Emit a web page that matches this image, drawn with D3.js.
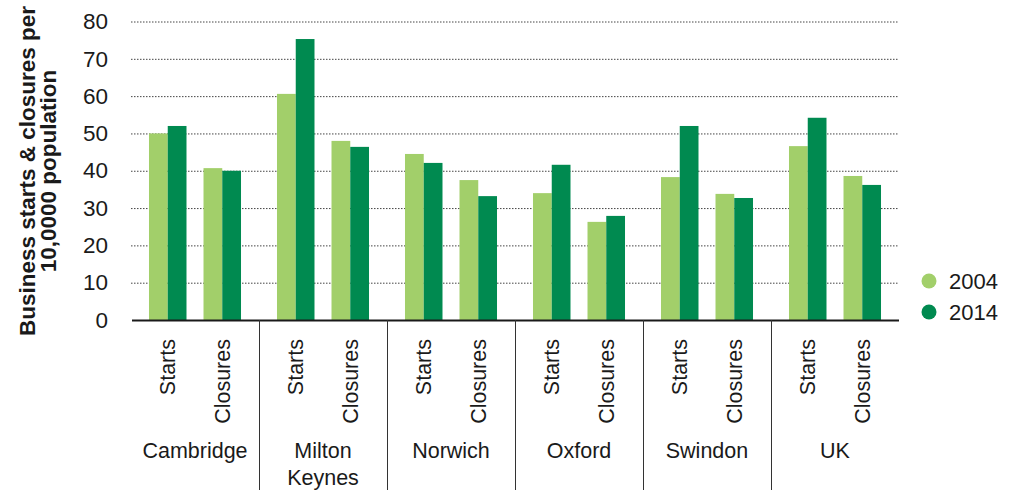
<!DOCTYPE html>
<html>
<head>
<meta charset="utf-8">
<script src="https://cdn.jsdelivr.net/npm/d3@7"></script>
<style>
  html, body { margin: 0; padding: 0; background: #fff; }
  svg { display: block; }
  text { font-family: "Liberation Sans", Arial, sans-serif; fill: #1a1a1a; }
</style>
</head>
<body>
<svg id="chart" width="1015" height="490"></svg>
<script>
// ---- Data ----
const places = ["Cambridge", "Milton Keynes", "Norwich", "Oxford", "Swindon", "UK"];
const measures = ["Starts", "Closures"];
const years = ["2004", "2014"];
const values2004 = [50.0, 40.7, 60.6, 48.0, 44.5, 37.5, 34.0, 26.3, 38.3, 33.8, 46.6, 38.6];
const values2014 = [52.0, 40.0, 75.3, 46.4, 42.1, 33.2, 41.6, 27.9, 52.0, 32.7, 54.2, 36.2];
const yTicks = [0, 10, 20, 30, 40, 50, 60, 70, 80];
const yTitle = ["Business starts & closures per", "10,0000 population"];
const colors = { "2004": "#a2cf6a", "2014": "#008a50" };

// rows built from the arrays
const rows = [];
places.forEach((p, i) => measures.forEach((m, j) => {
  const k = i * 2 + j;
  rows.push({ place: p, measure: m, "2004": values2004[k], "2014": values2014[k] });
}));

const svg = d3.select("#chart");
const mLeft = 131, mRight = 899, mTop = 21.5, mBottom = 320;

const x0 = d3.scaleBand().domain(places).range([mLeft, mRight]).padding(0);
const x1 = d3.scaleBand().domain(measures).range([0, x0.bandwidth()])
  .paddingInner(0.312).paddingOuter(0.33);
const x2 = d3.scaleBand().domain(years).range([0, x1.bandwidth()]).padding(0);
const y = d3.scaleLinear().domain([0, 80]).range([mBottom, mTop]);

// gridlines
const grid = svg.append("g").attr("transform", `translate(${mLeft},0)`)
  .call(d3.axisLeft(y).tickValues(yTicks.filter(d => d > 0)).tickSize(-(mRight - mLeft)).tickFormat(""));
grid.select(".domain").remove();
grid.selectAll(".tick line").attr("stroke", "#444").attr("stroke-width", 1)
  .attr("stroke-dasharray", "1.5,1.5");

// y tick labels
const yax = svg.append("g").attr("transform", `translate(108,0)`)
  .call(d3.axisLeft(y).tickValues(yTicks).tickSize(0).tickPadding(0));
yax.select(".domain").remove();
yax.selectAll("text").attr("font-size", 22.5).attr("fill", "#1a1a1a")
  .style("font-family", '"Liberation Sans", Arial, sans-serif');

// bars
const groups = svg.append("g").selectAll("g").data(rows).join("g")
  .attr("transform", d => `translate(${x0(d.place) + x1(d.measure)},0)`);
groups.selectAll("rect").data(d => years.map(yr => ({ yr, v: d[yr] }))).join("rect")
  .attr("x", d => x2(d.yr))
  .attr("width", x2.bandwidth())
  .attr("y", d => y(d.v))
  .attr("height", d => y(0) - y(d.v))
  .attr("fill", d => colors[d.yr]);

// baseline
svg.append("line").attr("x1", mLeft + 1).attr("x2", mRight).attr("y1", mBottom + 0.5).attr("y2", mBottom + 0.5)
  .attr("stroke", "#1a1a1a").attr("stroke-width", 2);

// group separators
svg.append("g").selectAll("line").data(places.slice(1)).join("line")
  .attr("x1", d => x0(d) + 0.5).attr("x2", d => x0(d) + 0.5)
  .attr("y1", mBottom).attr("y2", 490)
  .attr("stroke", "#333").attr("stroke-width", 1);

// measure labels (rotated)
svg.append("g").selectAll("text").data(rows).join("text")
  .attr("transform", d => `translate(${x0(d.place) + x1(d.measure) + x1.bandwidth() / 2},339) rotate(-90)`)
  .attr("text-anchor", "end")
  .attr("dy", "0.36em")
  .attr("font-size", 21.5)
  .text(d => d.measure);

// place labels
const pl = svg.append("g").selectAll("text").data(places).join("text")
  .attr("x", d => x0(d) + x0.bandwidth() / 2)
  .attr("y", 458)
  .attr("text-anchor", "middle")
  .attr("font-size", 21.5);
pl.each(function(d) {
  const parts = d === "Milton Keynes" ? ["Milton", "Keynes"] : [d];
  const t = d3.select(this);
  parts.forEach((p, i) => t.append("tspan")
    .attr("x", x0(d) + x0.bandwidth() / 2)
    .attr("dy", i === 0 ? 0 : 27)
    .text(p));
});

// y axis title
const yt = svg.append("text")
  .attr("transform", `translate(0,171) rotate(-90)`)
  .attr("text-anchor", "middle")
  .attr("font-size", 22.5)
  .attr("font-weight", "bold");
yTitle.forEach((line, i) => yt.append("tspan").attr("x", 0).attr("y", 35 + i * 21).text(line));

// legend
const leg = svg.append("g").selectAll("g").data(years).join("g")
  .attr("transform", (d, i) => `translate(929,${281 + i * 31})`);
leg.append("circle").attr("r", 7.5).attr("fill", d => colors[d]);
leg.append("text").attr("x", 20).attr("dy", "0.36em").attr("font-size", 22).text(d => d);
</script>
</body>
</html>
